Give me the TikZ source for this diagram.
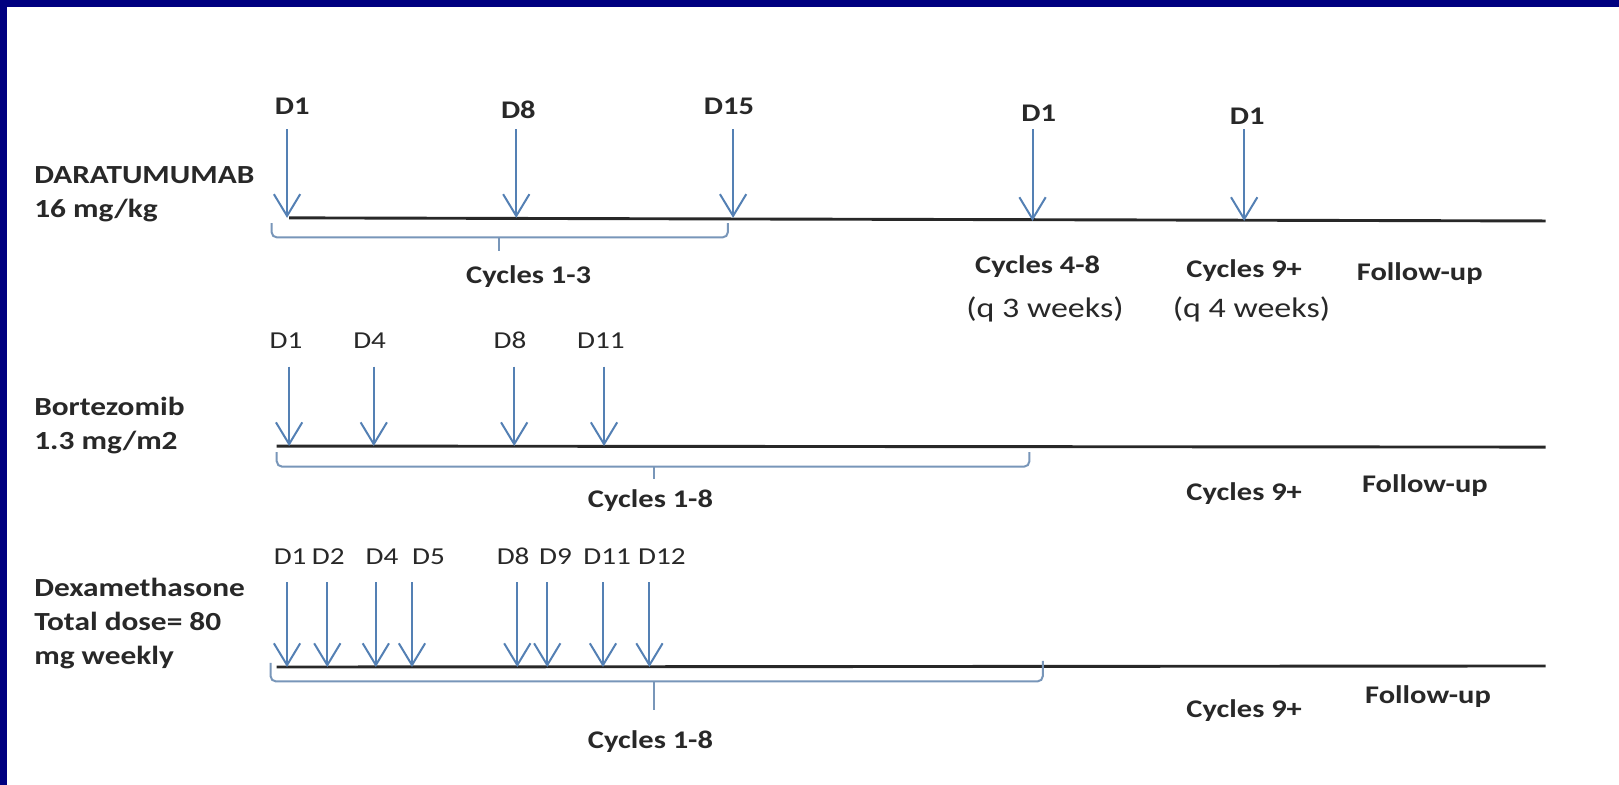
\documentclass[tikz,border=0pt]{standalone}
\usepackage{fontspec}
\setmainfont{Carlito}[FakeStretch=1.2]
\usetikzlibrary{arrows.meta}
\definecolor{slidenavy}{RGB}{0,0,128}
\definecolor{dosecol}{RGB}{84,128,180}
\definecolor{bracecol}{RGB}{120,150,185}
\definecolor{inkgray}{RGB}{40,40,40}

\begin{document}
\begin{tikzpicture}[x=0.02cm,y=-0.02cm,
  dose/.style={draw=dosecol,line width=1.1pt,-{Straight Barb[length=12pt,width=14.5pt]}},
  tline/.style={draw=inkgray,line width=1.6pt},
  brace/.style={draw=bracecol,line width=1.1pt,rounded corners=3pt},
  drug/.style={anchor=west,align=left,text=inkgray,font=\bfseries\fontsize{14.4}{18.8}\selectfont},
  dayb/.style={text=inkgray,font=\bfseries\fontsize{14}{16}\selectfont},
  day/.style={text=inkgray,font=\fontsize{13.4}{16}\selectfont},
  cyc/.style={text=inkgray,font=\bfseries\fontsize{14}{16}\selectfont},
  qweek/.style={text=inkgray,font=\fontsize{15.6}{18}\selectfont}]
 % slide frame
 \fill[white] (0,0) rectangle (1568,760);
 \fill[slidenavy] (0,0) rectangle (7,760);
 \fill[slidenavy] (0,0) rectangle (1568,7);
 \useasboundingbox (0,0) rectangle (1568,760);

 % daratumumab
 \node[drug] (dara) at (27,188) {DARATUMUMAB\\16 mg/kg};
 \coordinate (ta0) at (280,211);
 \coordinate (ta1) at (1497,214);
 \draw[tline] (ta0) -- (ta1);
 \node[dayb] (a1) at (283,103) {D1};
 \node[dayb] (a8) at (502,106) {D8};
 \node[dayb] (a15) at (706,103) {D15};
 \node[dayb] (a21) at (1006,110) {D1};
 \node[dayb] (a31) at (1208,113) {D1};
 \coordinate (a1t) at (278,125);
 \coordinate (a8t) at (500,125);
 \coordinate (a15t) at (710,125);
 \coordinate (a21t) at (1000,125);
 \coordinate (a31t) at (1205,125);
 \draw[dose] (a1t) -- (a1t |- ta0);
 \draw[dose] (a8t) -- (a8t |- ta0);
 \draw[dose] (a15t) -- (a15t |- ta0);
 \draw[dose] (a21t) -- (a21t |- ta1);
 \draw[dose] (a31t) -- (a31t |- ta1);
 \draw[brace] (263,216) -- (263,230) -- (705,230) -- (705,216);
 \draw[brace] (483,230) -- (483,243);
 \node[cyc] (ac13) at (512,268) {Cycles 1-3};
 \node[cyc] (ac48) at (1005,258) {Cycles 4-8};
 \node[qweek] (aq3) at (1012,300) {(q 3 weeks)};
 \node[cyc] (ac9) at (1205,262) {Cycles 9+};
 \node[qweek] (aq4) at (1212,300) {(q 4 weeks)};
 \node[cyc] (afu) at (1375,265) {Follow-up};

 % bortezomib
 \node[drug] (bort) at (27,412) {Bortezomib\\1.3 mg/m2};
 \coordinate (tb0) at (268,432);
 \coordinate (tb1) at (1497,433);
 \draw[tline] (tb0) -- (tb1);
 \node[day] (b1) at (277,330) {D1};
 \node[day] (b4) at (358,330) {D4};
 \node[day] (b8) at (494,330) {D8};
 \node[day] (b11) at (582,330) {D11};
 \coordinate (b1t) at (280,355);
 \coordinate (b4t) at (362,355);
 \coordinate (b8t) at (498,355);
 \coordinate (b11t) at (585,355);
 \draw[dose] (b1t) -- (b1t |- tb0);
 \draw[dose] (b4t) -- (b4t |- tb0);
 \draw[dose] (b8t) -- (b8t |- tb0);
 \draw[dose] (b11t) -- (b11t |- tb0);
 \draw[brace] (268,438) -- (268,452) -- (997,452) -- (997,438);
 \draw[brace] (633,452) -- (633,464);
 \node[cyc] (bc18) at (630,485) {Cycles 1-8};
 \node[cyc] (bc9) at (1205,478) {Cycles 9+};
 \node[cyc] (bfu) at (1380,470) {Follow-up};

 % dexamethasone
 \node[drug] (dexa) at (27,604) {Dexamethasone\\Total dose= 80\\mg weekly};
 \coordinate (tc0) at (268,646);
 \coordinate (tc1) at (1497,645);
 \draw[tline] (tc0) -- (tc1);
 \node[day] (c1) at (281,539) {D1};
 \node[day] (c2) at (318,539) {D2};
 \node[day] (c4) at (370,539) {D4};
 \node[day] (c5) at (415,539) {D5};
 \node[day] (c8) at (497,539) {D8};
 \node[day] (c9) at (538,539) {D9};
 \node[day] (c11) at (588,539) {D11};
 \node[day] (c12) at (641,539) {D12};
 \coordinate (c1t) at (278,564);
 \coordinate (c2t) at (317,564);
 \coordinate (c4t) at (364,564);
 \coordinate (c5t) at (399,564);
 \coordinate (c8t) at (501,564);
 \coordinate (c9t) at (530,564);
 \coordinate (c11t) at (584,564);
 \coordinate (c12t) at (629,564);
 \draw[dose] (c1t) -- (c1t |- tc0);
 \draw[dose] (c2t) -- (c2t |- tc0);
 \draw[dose] (c4t) -- (c4t |- tc0);
 \draw[dose] (c5t) -- (c5t |- tc0);
 \draw[dose] (c8t) -- (c8t |- tc0);
 \draw[dose] (c9t) -- (c9t |- tc0);
 \draw[dose] (c11t) -- (c11t |- tc0);
 \draw[dose] (c12t) -- (c12t |- tc0);
 \draw[brace] (262,642) -- (262,660) -- (1010,660) -- (1010,640);
 \draw[brace] (633,660) -- (633,688);
 \node[cyc] (cc18) at (630,718) {Cycles 1-8};
 \node[cyc] (cc9) at (1205,688) {Cycles 9+};
 \node[cyc] (cfu) at (1383,675) {Follow-up};
\end{tikzpicture}
\end{document}
